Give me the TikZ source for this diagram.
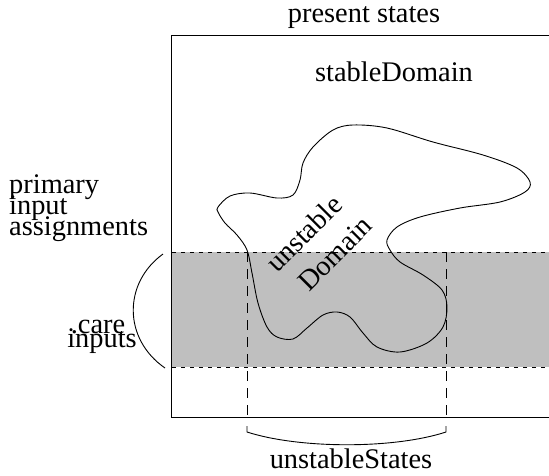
\documentclass[tikz,border=0pt]{standalone}
\usepackage{fontspec}
\setmainfont{Liberation Serif}
\newcommand\mytightlines{\lineskiplimit=-100pt\relax}
\begin{document}
\begin{tikzpicture}[x=1pt,y=-1pt,
  lbl/.style={inner sep=0pt,font=\fontsize{28.4}{21}\selectfont},
  solidline/.style={line width=0.9pt},
  bandedge/.style={line width=0.9pt,dash pattern=on 4pt off 5pt},
  vdash/.style={line width=0.9pt,dash pattern=on 10pt off 7pt},
  bandfill/.style={fill=black!25}]
\useasboundingbox (0,0) rectangle (549,475);
% shaded band
\fill[bandfill] (171.5,252) rectangle (552,367);
\draw[bandedge] (172,252) -- (552,252);
\draw[bandedge] (172,367) -- (552,367);
% outer rectangle
\draw[solidline] (171,35) rectangle (553,417.5);
% dashed verticals
\draw[vdash] (247,252) -- (247,417.5);
\draw[vdash] (446,252) -- (446,417.5);
% unstable domain blob
\draw[solidline] plot[smooth cycle,tension=0.55] coordinates {
 (218,207) (230,196) (250,193) (277,198) (293,195) (300,180) (303,163)
 (313,147) (333,130) (353,125) (387,128) (433,142) (483,155) (517,168)
 (530,182) (525,192) (500,202) (460,208) (420,217) (397,227) (387,240)
 (390,250) (400,262) (423,275) (442,290) (447,307) (443,327) (427,343)
 (400,352) (377,347) (363,333) (350,317) (337,312) (323,315) (307,328)
 (293,339) (277,337) (267,327) (258,303) (252,273) (247,250) (237,235)
 (225,223) (218,212)};
% left brace
\draw[solidline] (163,254) .. controls (123,283) and (123,339) .. (165,368);
% bottom brace
\draw[solidline] (247,426) -- (247,432) .. controls (300,449) and (394,449) .. (446,432) -- (446,426);
% texts
\node[lbl,anchor=base] (present) at (364,22) {present states};
\node[lbl,anchor=base] (stable) at (394,81) {stableDomain};
\node[lbl,anchor=base west,align=left,font=\fontsize{28.4}{21}\selectfont\mytightlines] (primary) at (9,235) {primary\\input\\assignments};
\node[lbl,align=center,font=\fontsize{28.4}{14}\selectfont\mytightlines,anchor=base] (care) at (102,347) {.care\hspace*{8pt}\\inputs};
\node[lbl,align=center,font=\fontsize{28.4}{36}\selectfont\mytightlines,rotate=45,anchor=center] (unst) at (316.5,246) {unstable\\\hspace*{15pt}Domain};
\node[lbl,anchor=base] (ustates) at (351,468) {unstableStates};
\end{tikzpicture}
\end{document}
